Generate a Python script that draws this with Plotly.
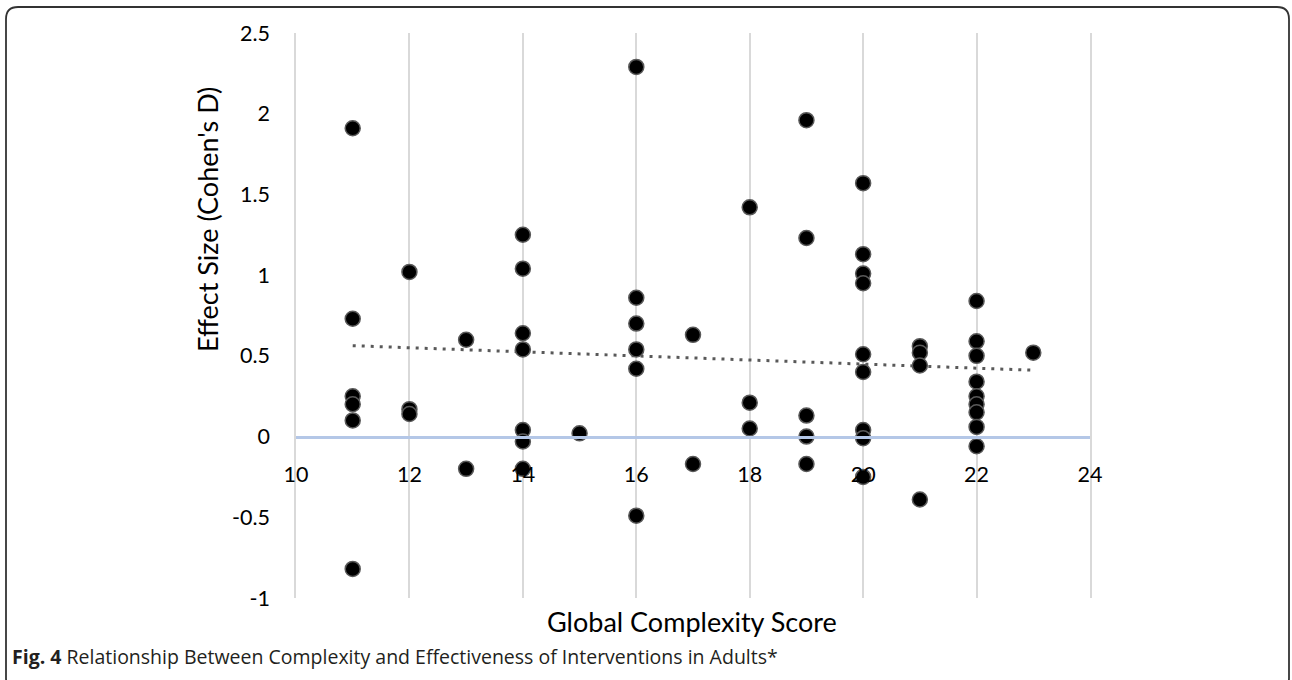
import plotly.graph_objects as go

# ---- data ----
score_11 = [1.91, 0.73, 0.25, 0.20, 0.10, -0.82]
score_12 = [1.02, 0.17, 0.14]
score_13 = [0.60, -0.20]
score_14 = [1.25, 1.04, 0.64, 0.54, 0.04, -0.03, -0.20]
score_15 = [0.02]
score_16 = [2.29, 0.86, 0.70, 0.54, 0.42, -0.49]
score_17 = [0.63, -0.17]
score_18 = [1.42, 0.21, 0.05]
score_19 = [1.96, 1.23, 0.13, 0.00, -0.17]
score_20 = [1.57, 1.13, 1.01, 0.95, 0.51, 0.40, 0.04, -0.01, -0.25]
score_21 = [0.56, 0.52, 0.44, -0.39]
score_22 = [0.84, 0.59, 0.50, 0.34, 0.25, 0.20, 0.15, 0.06, -0.06]
score_23 = [0.52]

groups = {11: score_11, 12: score_12, 13: score_13, 14: score_14, 15: score_15,
          16: score_16, 17: score_17, 18: score_18, 19: score_19, 20: score_20,
          21: score_21, 22: score_22, 23: score_23}

trend_x = [11, 23]
trend_y = [0.563, 0.411]

x_ticks = [10, 12, 14, 16, 18, 20, 22, 24]
y_ticks = [-1, -0.5, 0, 0.5, 1, 1.5, 2, 2.5]
y_tick_labels = ["-1", "-0.5", "0", "0.5", "1", "1.5", "2", "2.5"]

xs, ys = [], []
for k, vals in groups.items():
    for v in vals:
        xs.append(k)
        ys.append(v)

# ---- layout geometry (pixels) ----
W, H = 1292, 680
L, R, T, B = 296, 1090, 33, 598


def PX(px):
    return (px - L) / (R - L)


def PY(py):
    return (B - py) / (B - T)


fig = go.Figure()

fig.add_trace(go.Scatter(
    x=trend_x, y=trend_y, mode="lines",
    line=dict(color="#595959", width=3, dash="3px,6px"),
    hoverinfo="skip", showlegend=False))

fig.add_trace(go.Scatter(
    x=xs, y=ys, mode="markers",
    marker=dict(size=15, color="black", line=dict(color="#595959", width=1.5)),
    showlegend=False))

fig.update_xaxes(
    range=[10, 24], tickvals=x_ticks, showgrid=True, gridcolor="#D9D9D9", gridwidth=1.5,
    zeroline=False, anchor="free", position=1 / 3.5,
    showline=True, linecolor="#B4C7E7", linewidth=2.5,
    ticks="outside", ticklen=18, tickcolor="rgba(0,0,0,0)",
    tickfont=dict(family="Lato", size=21.5, color="black"))

fig.update_yaxes(
    range=[-1, 2.5], tickvals=y_ticks, ticktext=y_tick_labels,
    showgrid=False, zeroline=False,
    showline=True, mirror=True, linecolor="#D9D9D9", linewidth=1.5,
    ticks="outside", ticklen=20, tickcolor="rgba(0,0,0,0)",
    tickfont=dict(family="Lato", size=21.5, color="black"))

r = 12
x0, x1, y0, y1 = 6, 1289, 7, 690
path = (f"M {PX(x0)},{PY(y0 + r)} Q {PX(x0)},{PY(y0)} {PX(x0 + r)},{PY(y0)} "
        f"L {PX(x1 - r)},{PY(y0)} Q {PX(x1)},{PY(y0)} {PX(x1)},{PY(y0 + r)} "
        f"L {PX(x1)},{PY(y1 - r)} Q {PX(x1)},{PY(y1)} {PX(x1 - r)},{PY(y1)} "
        f"L {PX(x0 + r)},{PY(y1)} Q {PX(x0)},{PY(y1)} {PX(x0)},{PY(y1 - r)} Z")

fig.add_shape(type="path", path=path, xref="paper", yref="paper",
              line=dict(color="#333333", width=1.8))

fig.add_annotation(
    text="Effect Size (Cohen's D)", textangle=-90,
    x=PX(207), y=PY(220), xref="paper", yref="paper",
    xanchor="center", yanchor="middle", showarrow=False,
    font=dict(family="Lato", size=27, color="black"))

fig.add_annotation(
    text="Global Complexity Score",
    x=PX(692), y=PY(622), xref="paper", yref="paper",
    xanchor="center", yanchor="middle", showarrow=False,
    font=dict(family="Lato", size=27, color="black"))

fig.add_annotation(
    text="<b>Fig. 4</b> Relationship Between Complexity and Effectiveness of Interventions in Adults*",
    x=PX(10), y=PY(656), xref="paper", yref="paper",
    xanchor="left", yanchor="middle", showarrow=False,
    font=dict(family="Open Sans", size=19.5, color="#231F20"))

fig.update_layout(
    width=W, height=H,
    margin=dict(l=L, r=W - R, t=T, b=H - B),
    plot_bgcolor="white", paper_bgcolor="white",
    font=dict(family="Lato"),
)

fig.write_html("out.html", config={"displayModeBar": False},
               post_script="document.body.style.margin='0px';")
